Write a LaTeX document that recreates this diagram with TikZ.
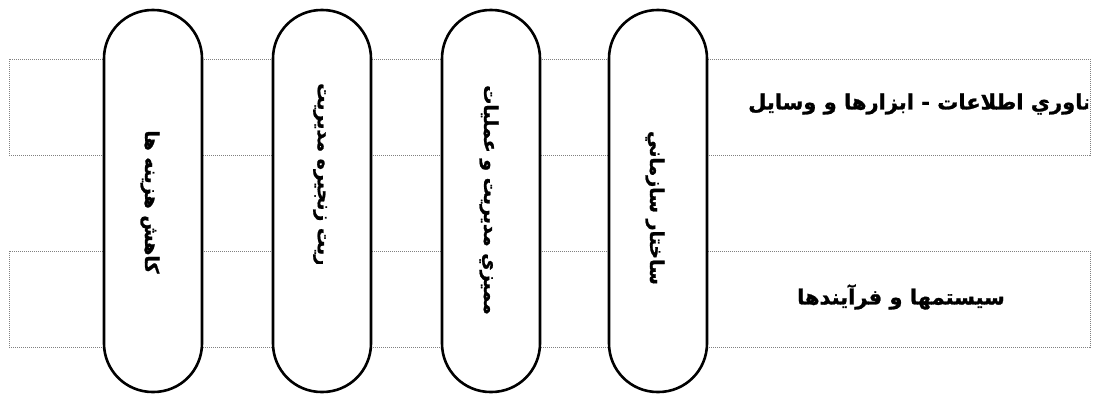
\documentclass[tikz,border=0pt]{standalone}
\usepackage{fontspec}
\TeXXeTstate=1
\newfontfamily\arabicfont[Script=Arabic, FakeBold=1.2]{DejaVu Sans Bold}
\tikzset{
  band/.style={draw=gray, densely dotted, line width=1pt},
  pill/.style={draw=black, fill=white, line width=2.6pt, rounded corners=48.5pt,
    minimum width=98pt, minimum height=382pt, inner sep=0pt},
  pilltext/.style={rotate=-90, font=\arabicfont\fontsize{19}{22}\selectfont, inner sep=0pt},
  bandtext/.style={font=\arabicfont\fontsize{21}{24}\selectfont, inner sep=0pt}
}
\begin{document}
\begin{tikzpicture}[x=1pt,y=-1pt]
\useasboundingbox (0,0) rectangle (1097,394);
\draw[band] (9,59) rectangle (1090,155);
\draw[band] (9,251) rectangle (1090,347);
\begin{scope}
\clip (738,60) rectangle (1088,154);
\node[bandtext, anchor=west] (t1) at (748,104) {\beginR فناوري اطلاعات - ابزارها و وسايل\endR};
\end{scope}
\node[bandtext] (t2) at (901,297) {\beginR سيستمها و فرآيندها\endR};
\node[pill] (p1) at (153,201) {};
\node[pill] (p2) at (322,201) {};
\node[pill] (p3) at (491,201) {};
\node[pill] (p4) at (658,201) {};
\node[pilltext] (l1) at (150,202) {\beginR کاهش هزينه ها\endR};
\begin{scope}
\clip (290,60) rectangle (355,263);
\node[pilltext, anchor=west] (l2) at (320,83) {\beginR مديريت زنجيره مديريت\endR};
\end{scope}
\node[pilltext] (l3) at (489,200) {\beginR ممیزي مديريت و عمليات\endR};
\node[pilltext] (l4) at (655,208) {\beginR ساختار سازماني\endR};
\end{tikzpicture}
\end{document}
